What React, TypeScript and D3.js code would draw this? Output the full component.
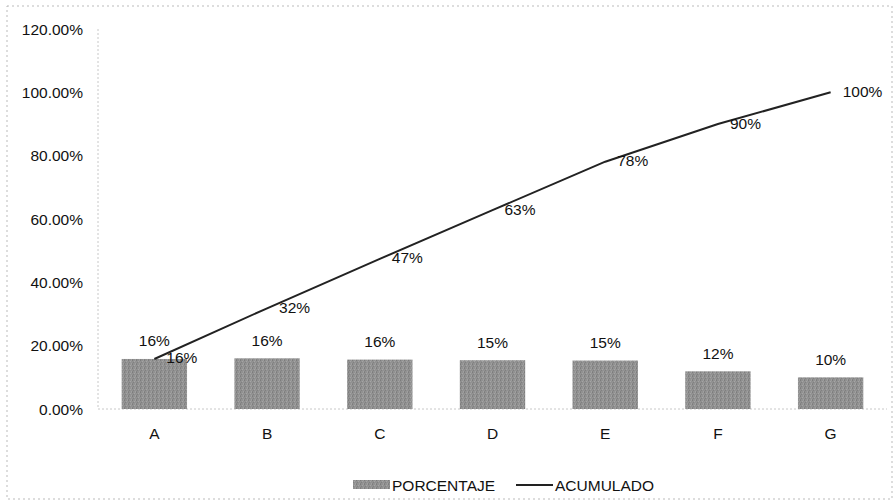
import React from "react";
import * as d3 from "d3";

const categories = ["A", "B", "C", "D", "E", "F", "G"];
const porcentaje = [15.8, 16.0, 15.6, 15.4, 15.3, 11.9, 10.0];
const acumulado = [15.8, 31.8, 47.4, 62.8, 78.1, 90.0, 100.0];
const yTicks = [0, 20, 40, 60, 80, 100, 120];
const legendLabels = ["PORCENTAJE", "ACUMULADO"];

const W = 895;
const H = 502;
const M = { left: 98, right: 887, top: 29, bottom: 409 };
const FONT = "'Liberation Sans', Arial, sans-serif";
const FS = 15.5;

export default function App() {
  const x = d3.scaleBand<string>().domain(categories).range([M.left, M.right]).paddingInner(0.42).paddingOuter(0.21);
  const y = d3.scaleLinear().domain([0, 120]).range([M.bottom, M.top]);
  const cx = (c: string) => (x(c) as number) + x.bandwidth() / 2;
  const line = d3
    .line<number>()
    .x((_, i) => cx(categories[i]))
    .y((d) => y(d));

  return (
    <svg width={W} height={H} style={{ position: "absolute", left: 0, top: 0, display: "block" }} fontFamily={FONT}>
      <defs>
        <pattern id="grain" width="4" height="4" patternUnits="userSpaceOnUse">
          <rect width="4" height="4" fill="#919191" />
          <rect x="0" y="0" width="1" height="1" fill="#7c7c7c" />
          <rect x="2" y="1" width="1" height="1" fill="#a5a5a5" />
          <rect x="1" y="2" width="1" height="1" fill="#808080" />
          <rect x="3" y="3" width="1" height="1" fill="#a0a0a0" />
          <rect x="3" y="0" width="1" height="1" fill="#9c9c9c" />
          <rect x="0" y="3" width="1" height="1" fill="#838383" />
        </pattern>
      </defs>
      <rect x={0} y={0} width={W} height={H} fill="#fff" />
      <rect x={7} y={6} width={W - 10} height={H - 9} fill="none" stroke="#bbb" strokeDasharray="2,3" />

      {/* axes */}
      <line x1={M.left} x2={M.left} y1={M.top} y2={M.bottom} stroke="#c8c8c8" strokeDasharray="2,2" />
      <line x1={M.left} x2={M.right} y1={M.bottom} y2={M.bottom} stroke="#c8c8c8" strokeDasharray="2,2" />

      {yTicks.map((t) => (
        <text key={t} x={83} y={y(t)} textAnchor="end" dominantBaseline="central" fontSize={FS} fill="#111">
          {t.toFixed(2) + "%"}
        </text>
      ))}

      {categories.map((c, i) => (
        <g key={c}>
          <rect x={x(c)} y={y(porcentaje[i])} width={x.bandwidth()} height={M.bottom - y(porcentaje[i])} fill="url(#grain)" />
          <text x={cx(c)} y={y(porcentaje[i]) - 18} textAnchor="middle" dominantBaseline="central" fontSize={FS} fill="#111">
            {Math.round(porcentaje[i]) + "%"}
          </text>
          <text x={cx(c)} y={433} textAnchor="middle" dominantBaseline="central" fontSize={FS} fill="#111">
            {c}
          </text>
        </g>
      ))}

      <path d={line(acumulado) ?? ""} fill="none" stroke="#222" strokeWidth={2} />
      {categories.map((c, i) => (
        <text key={"a" + c} x={cx(c) + 12} y={y(acumulado[i]) - 1} textAnchor="start" dominantBaseline="central" fontSize={FS} fill="#111">
          {Math.round(acumulado[i]) + "%"}
        </text>
      ))}

      {/* legend */}
      <rect x={353} y={480} width={37} height={9} fill="url(#grain)" />
      <text x={392} y={485} dominantBaseline="central" fontSize={FS} fill="#111">
        {legendLabels[0]}
      </text>
      <line x1={516} x2={553} y1={485} y2={485} stroke="#222" strokeWidth={2} />
      <text x={555} y={485} dominantBaseline="central" fontSize={FS} fill="#111">
        {legendLabels[1]}
      </text>
    </svg>
  );
}
